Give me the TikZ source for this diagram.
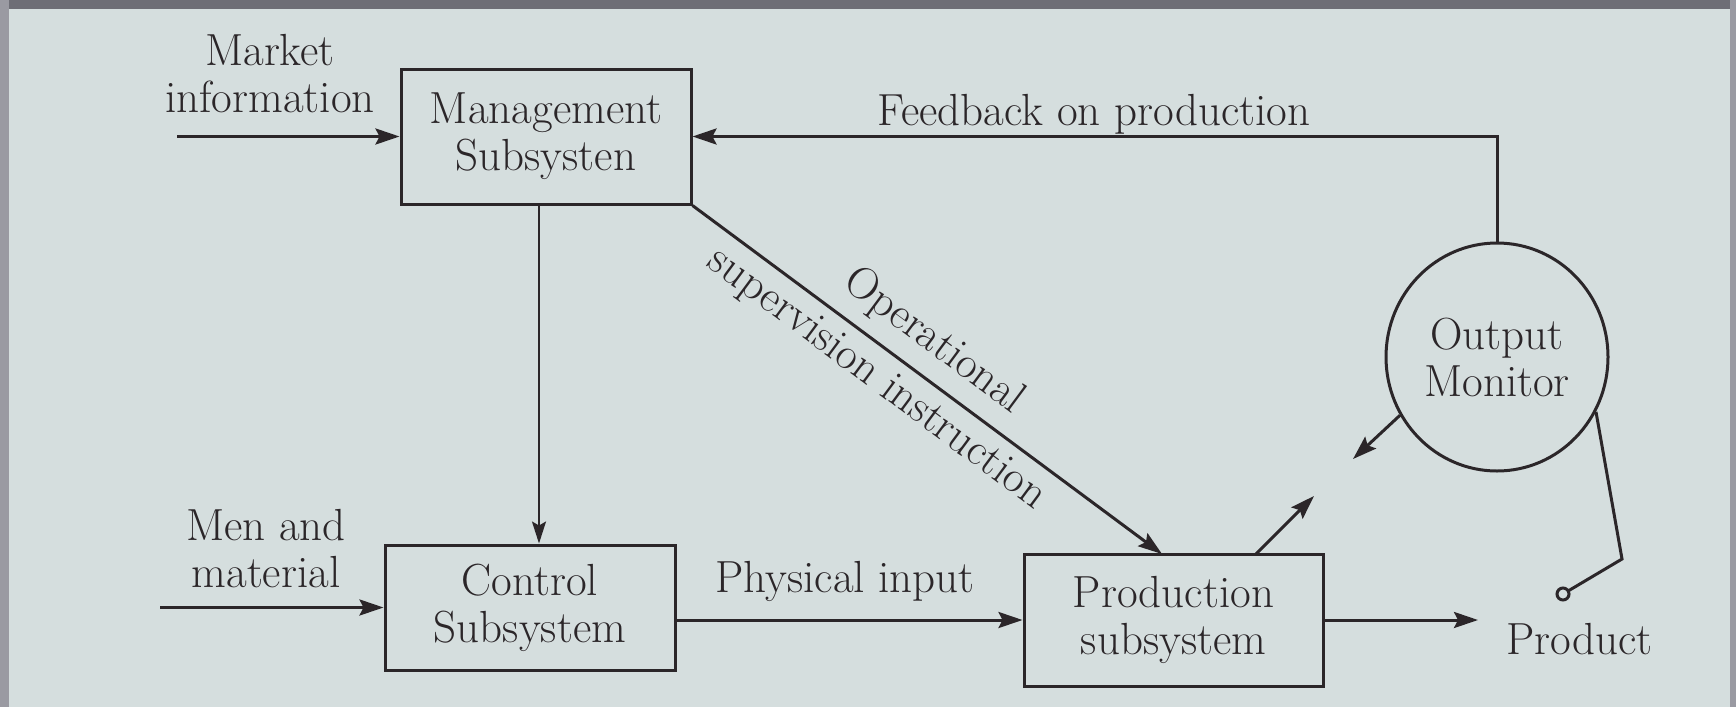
\documentclass[tikz,border=0pt]{standalone}
\usetikzlibrary{arrows.meta,shapes.geometric,calc}
\definecolor{paper}{HTML}{D5DEDE}
\definecolor{ink}{HTML}{2B2629}
\definecolor{edge}{HTML}{6E6E76}
\definecolor{edgel}{HTML}{9A9AA2}
\tikzset{
  txt/.style={font=\fontsize{45}{47}\selectfont, text=ink, align=center},
  box/.style={txt, draw=ink, line width=3pt, inner sep=0pt},
  lbl/.style={txt, inner sep=0pt},
  conn/.style={draw=ink, line width=3pt, -{Stealth[length=24pt,width=16pt,inset=4pt]}},
  thinconn/.style={draw=ink, line width=1.8pt, -{Stealth[length=22pt,width=14pt,inset=4pt]}},
  wire/.style={draw=ink, line width=3pt},
}
\begin{document}
\begin{tikzpicture}[x=1pt,y=-1pt]
\useasboundingbox (0,0) rectangle (1736,707);
\fill[paper] (0,0) rectangle (1736,707);
\fill[edge] (0,0) rectangle (1736,9);
\fill[edgel] (0,0) rectangle (9,707);
\fill[edgel] (1730,0) rectangle (1736,707);

% boxes
\node[box, minimum width=290pt, minimum height=135pt] (mgmt) at (546,136.5) {Management\\Subsysten};
\node[box, minimum width=290pt, minimum height=125pt] (ctrl) at (530,607.5) {Control\\Subsystem};
\node[box, minimum width=299pt, minimum height=132pt] (prod) at (1173.5,620) {Production\\subsystem};
\node[txt, draw=ink, line width=3pt, ellipse, inner sep=0pt, minimum width=222pt, minimum height=228pt] (mon) at (1497,357) {Output\\Monitor};

% free labels
\node[lbl] (lmi) at (270,74) {Market\\information};
\node[lbl] (lmm) at (266,549) {Men and\\material};
\node[lbl] (lfb) at (1094,114) {Feedback on production};
\node[lbl] (lpi) at (845,581) {Physical input};
\node[lbl, anchor=west] (lpr) at (1506,639) {Product};

% coordinates
\coordinate (mi) at (177,136.5);
\coordinate (mm) at (160,607.5);
\coordinate (vx) at (539,0);
\coordinate (diagend) at (1162,554);
\coordinate (upend) at (1314,496);
\coordinate (upstart) at (1256,554);
\coordinate (dnend) at (1353,459);
\coordinate (prend) at (1478,620);
\coordinate (knee) at (1622,559);
\coordinate (sw) at (1563,594);

% connectors
\draw[conn] (mi) -- (mgmt.west);
\draw[conn] (mon.north) |- (mgmt.east);
\draw[thinconn] (mgmt.south -| vx) -- (ctrl.north -| vx);
\draw[conn] (mm) -- (ctrl.west);
\draw[conn] (ctrl.east |- prod.west) -- (prod.west);
\draw[conn] (prod.east) -- (prend);
\draw[conn] (mgmt.south east) -- (diagend)
  node[lbl, pos=0.47, sloped, above=13pt] {Operational}
  node[lbl, pos=0.43, sloped, below=10pt] {supervision instruction};
\draw[conn] (upstart) -- (upend);
\draw[conn] (mon.211) -- (dnend);
\draw[wire] (mon.-29) -- (knee) -- (sw);
\node[draw=ink, line width=3pt, circle, inner sep=0pt, minimum size=12pt, fill=paper] (swc) at (sw) {};
\end{tikzpicture}
\end{document}
